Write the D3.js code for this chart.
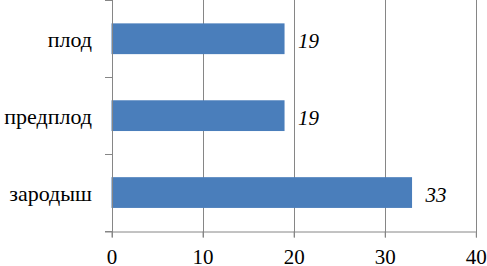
<!DOCTYPE html>
<html><head><meta charset="utf-8">
<script src="https://cdn.jsdelivr.net/npm/d3@7"></script>
<style>body{margin:0;background:#fff}svg{display:block}</style>
</head><body>
<svg id="c" width="487" height="266"></svg>
<script>
const categories = ["плод", "предплод", "зародыш"];
const values = [19, 19, 33];
const tickValues = [0, 10, 20, 30, 40];

const svg = d3.select("#c");
const x = d3.scaleLinear().domain([0, 40]).range([111.5, 475.8]);
const y = d3.scaleBand().domain(categories).range([0.3, 231]).paddingInner(0.6).paddingOuter(0.3);
const font = '"Liberation Serif"';
const grid = "#868686";

// vertical gridlines
svg.append("g").selectAll("line").data(tickValues.slice(1)).join("line")
  .attr("x1", d => Math.round(x(d)) + 0.5).attr("x2", d => Math.round(x(d)) + 0.5)
  .attr("y1", 0).attr("y2", 237.5).attr("stroke", grid).attr("stroke-width", 1);

// bars
svg.append("g").selectAll("rect").data(values).join("rect")
  .attr("x", x(0)).attr("y", (d, i) => y(categories[i]))
  .attr("width", d => x(d) - x(0)).attr("height", y.bandwidth())
  .attr("fill", "#4a7ebb");

// x axis
const xAxis = svg.append("g").attr("transform", "translate(0,231.5)")
  .call(d3.axisBottom(x).tickValues(tickValues).tickSize(6).tickPadding(12).tickFormat(d3.format("d")));
xAxis.attr("font-family", null).attr("font-size", null);
xAxis.select(".domain").attr("stroke", grid).attr("d", "M105,0.5H" + x(40));
xAxis.selectAll(".tick line").attr("stroke", grid);
xAxis.selectAll(".tick text").style("font-family", font).style("font-size", "21px").attr("fill", "#000");

// y axis
const yBound = d3.scaleOrdinal().domain([0,1,2,3]).range([0.3, 77.2, 154.1, 231]);
const yAxisG = svg.append("g");
yAxisG.append("line").attr("x1", Math.round(x(0)) + 0.5).attr("x2", Math.round(x(0)) + 0.5)
  .attr("y1", 0).attr("y2", 237.5).attr("stroke", grid);
yAxisG.selectAll("line.t").data([0,1,2,3]).join("line").attr("class", "t")
  .attr("x1", 105).attr("x2", Math.round(x(0)))
  .attr("y1", d => Math.round(yBound(d)) + 0.5).attr("y2", d => Math.round(yBound(d)) + 0.5)
  .attr("stroke", grid);

// category labels
svg.append("g").selectAll("text").data(categories).join("text")
  .attr("x", 92).attr("y", d => y(d) + y.bandwidth() / 2 + 8.5)
  .attr("text-anchor", "end").style("font-family", font).style("font-size", "22px").attr("fill", "#000")
  .text(d => d);

// value labels
svg.append("g").selectAll("text").data(values).join("text")
  .attr("x", d => x(d) + 13.5).attr("y", (d, i) => y(categories[i]) + y.bandwidth() / 2 + 9)
  .style("font-family", font).style("font-style", "italic").style("font-size", "21px").attr("fill", "#000")
  .text(d => d);
</script>
</body></html>
